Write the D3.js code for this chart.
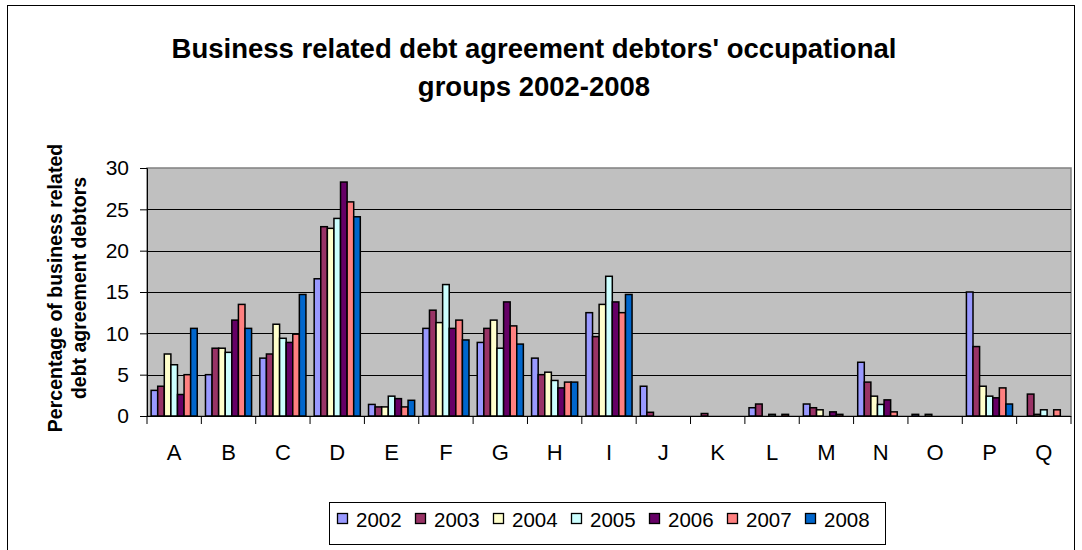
<!DOCTYPE html>
<html><head><meta charset="utf-8">
<script src="https://cdn.jsdelivr.net/npm/d3@7"></script>
<style>body{margin:0;background:#fff;} svg{display:block;font-family:Arial,"Liberation Sans",sans-serif;}</style>
</head><body>
<svg id="chart" width="1082" height="550"></svg>
<script>
const categories = ["A","B","C","D","E","F","G","H","I","J","K","L","M","N","O","P","Q"];
const years = ["2002","2003","2004","2005","2006","2007","2008"];
const colors = ["#9999FF","#993366","#FFFFCC","#CCFFFF","#660066","#FF8080","#0066CC"];
const v2002 = [3.1,5.0,7.0,16.6,1.4,10.6,8.9,7.0,12.5,3.6,0,1.0,1.45,6.5,0.2,15.0,0];
const v2003 = [3.6,8.2,7.5,22.9,1.1,12.8,10.6,5.0,9.6,0.45,0.3,1.45,1.0,4.1,0,8.4,2.65];
const v2004 = [7.5,8.2,11.1,22.7,1.1,11.3,11.6,5.3,13.5,0,0,0,0.75,2.4,0.2,3.6,0.2];
const v2005 = [6.2,7.7,9.4,23.9,2.4,15.9,8.2,4.3,16.9,0,0,0.2,0,1.4,0,2.4,0.75];
const v2006 = [2.6,11.6,8.9,28.3,2.1,10.6,13.8,3.4,13.8,0,0,0,0.5,1.95,0,2.2,0];
const v2007 = [5.0,13.5,9.9,25.9,1.1,11.6,10.9,4.1,12.5,0,0,0.2,0.2,0.5,0,3.4,0.75];
const v2008 = [10.6,10.6,14.7,24.1,1.9,9.2,8.7,4.1,14.7,0,0,0,0,0,0,1.45,0];
const series = [v2002,v2003,v2004,v2005,v2006,v2007,v2008];
const yTicks = [0,5,10,15,20,25,30];

const svg = d3.select("#chart");
const L = 147, R = 1071, T = 168, B = 416;

// outer border
svg.append("rect").attr("x",7.5).attr("y",5.5).attr("width",1067).attr("height",560)
  .attr("fill","#fff").attr("stroke","#000").attr("stroke-width",1);

const x0 = d3.scaleBand().domain(categories).range([L,R]).paddingInner(0).paddingOuter(0);
const x1 = d3.scaleBand().domain(years).range([0,x0.bandwidth()]).paddingOuter(0.625).paddingInner(0);
const y = d3.scaleLinear().domain([0,30]).range([B,T]);

// plot area
svg.append("rect").attr("x",L).attr("y",T).attr("width",R-L).attr("height",B-T)
  .attr("fill","#C0C0C0").attr("stroke","#808080").attr("stroke-width",1.5);

// gridlines
svg.append("g").selectAll("line").data(yTicks.filter(t=>t>0&&t<30)).join("line")
  .attr("x1",L).attr("x2",R).attr("y1",d=>Math.round(y(d))+0.5).attr("y2",d=>Math.round(y(d))+0.5)
  .attr("stroke","#000").attr("stroke-width",1);

// bars
const groups = svg.append("g").selectAll("g").data(categories).join("g")
  .attr("transform",d=>`translate(${x0(d)},0)`);
groups.selectAll("rect").data((c,i)=>series.map((s,k)=>({year:years[k],k,v:s[i]})).filter(d=>d.v>0)).join("rect")
  .attr("x",d=>x1(d.year)).attr("width",x1.bandwidth())
  .attr("y",d=>y(d.v)).attr("height",d=>B-y(d.v))
  .attr("fill",d=>colors[d.k]).attr("stroke","#000").attr("stroke-width",1.5);

// y axis
const yAxis = d3.axisLeft(y).tickValues(yTicks).tickSize(7).tickPadding(11);
const gy = svg.append("g").attr("transform",`translate(${L},0)`).call(yAxis);
gy.select(".domain").attr("stroke","#000");
gy.selectAll("text").attr("font-size",21).attr("fill","#000").attr("font-family","Arial, 'Liberation Sans', sans-serif");

// x axis
const gx = svg.append("g").attr("transform",`translate(0,${B})`);
gx.append("line").attr("x1",L).attr("x2",R).attr("y1",0.5).attr("y2",0.5).attr("stroke","#000");
const bounds = categories.map(c=>x0(c)).concat([R]);
gx.selectAll("line.tk").data(bounds).join("line").attr("class","tk")
  .attr("x1",d=>d).attr("x2",d=>d).attr("y1",0).attr("y2",8).attr("stroke","#000");
gx.selectAll("text").data(categories).join("text")
  .attr("x",d=>x0(d)+x0.bandwidth()/2).attr("y",44).attr("text-anchor","middle")
  .attr("font-size",22).text(d=>d);

// y title
const yt = svg.append("text").attr("transform","translate(0,288) rotate(-90)")
  .attr("font-weight","bold").attr("font-size",19.5).attr("text-anchor","middle");
yt.append("tspan").attr("x",0).attr("y",62).text("Percentage of business related");
yt.append("tspan").attr("x",0).attr("y",86).text("debt agreement debtors");

// title
const tt = svg.append("text").attr("text-anchor","middle").attr("font-weight","bold").attr("font-size",27.5);
tt.append("tspan").attr("x",534).attr("y",58).text("Business related debt agreement debtors' occupational");
tt.append("tspan").attr("x",534).attr("y",96).text("groups 2002-2008");

// legend
svg.append("rect").attr("x",329.5).attr("y",502.5).attr("width",556).attr("height",42)
  .attr("fill","#fff").attr("stroke","#000");
const leg = svg.append("g").selectAll("g").data(years).join("g")
  .attr("transform",(d,i)=>`translate(${337+i*78},0)`);
leg.append("rect").attr("x",0.5).attr("y",513.5).attr("width",10).attr("height",10)
  .attr("fill",(d,i)=>colors[i]).attr("stroke","#000").attr("stroke-width",1.3);
leg.append("text").attr("x",19).attr("y",527).attr("font-size",20.5).text(d=>d);
</script>
</body></html>
